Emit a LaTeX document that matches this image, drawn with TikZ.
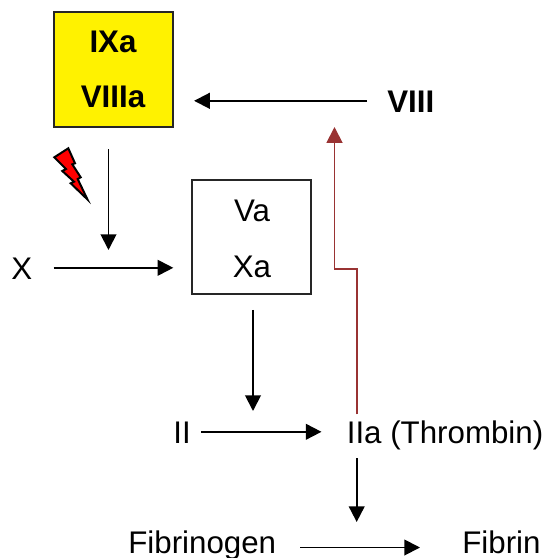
\documentclass[tikz,border=0pt]{standalone}
\usepackage{fontspec}
\setmainfont{Liberation Sans}
\usetikzlibrary{arrows.meta}
\definecolor{thrombinred}{HTML}{993333}
\tikzset{
    factor/.style={inner sep=0pt,anchor=base,text height=0.448cm,text depth=0pt,font=\fontsize{17.8}{20}\selectfont},
    lowfactor/.style={factor,text depth=0.228cm},
    active/.style={factor,font=\fontsize{17.8}{20}\selectfont\bfseries},
    complex/.style={draw=black!85,line width=0.036cm,inner sep=0pt,minimum width=2.38cm},
    arr/.style={line width=0.038cm,-{Triangle[length=0.315cm,width=0.315cm]}},
}
\begin{document}
\begin{tikzpicture}[x=0.02cm,y=-0.02cm]
    \useasboundingbox (0,0) rectangle (545,558);

    \node[complex,fill=yellow,minimum height=2.29cm] (tenase) at (113.7,69.5) {};
    \node[active] (ixa) at (113,52.5) {IXa};
    \node[active] (viiia) at (113,107.5) {VIIIa};
    \node[active,anchor=base west] (viii) at (387,112) {VIII};

    \node[complex,minimum height=2.28cm] (prothrombinase) at (251.7,237) {};
    \node[factor] (va) at (252,221) {Va};
    \node[factor] (xa) at (252,277) {Xa};
    \node[factor,anchor=base west] (x) at (11,279) {X};

    \node[factor,anchor=base west] (ii) at (173,443) {II};
    \node[factor,anchor=base west] (iia) at (346.5,443) {IIa (Thrombin)};
    \node[lowfactor,anchor=base west] (fibrinogen) at (128,553) {Fibrinogen};
    \node[lowfactor,anchor=base west] (fibrin) at (462,553) {Fibrin};

    \coordinate (xin) at (108.5,250);
    \coordinate (iiin) at (253,411);
    \coordinate (fibrinin) at (356.7,522);
    \coordinate (feedback) at (334.5,127);
    \coordinate (bendlow) at (356.7,269);

    % bolt
    \filldraw[fill=red,line width=0.04cm,line join=miter] (54.3,157.3) -- (68.3,148.3) -- (75,163.3) -- (72.3,164.3)
        -- (80.7,177.3) -- (77.7,179) -- (87.5,199.5) -- (70.7,183.3) -- (74,181.7) -- (62.3,171) -- (66,169) -- cycle;

    \draw[arr,shorten <=0.4cm,shorten >=0.4cm] (viii.west) -- (viii.west -| tenase.east);
    \draw[arr,shorten <=0.43cm] (xin |- tenase.south) -- (xin);
    \draw[arr,shorten <=0.42cm,shorten >=0.36cm] (x.east) -- (x.east -| prothrombinase.west);
    \draw[arr,shorten <=0.3cm] (iiin |- prothrombinase.south) -- (iiin);
    \draw[arr,shorten <=0.2cm,shorten >=0.5cm] (ii.east) -- (ii.east -| iia.west);
    \draw[arr,shorten <=0.3cm] (fibrinin |- iia.south) -- (fibrinin);
    \draw[arr,shorten <=0.48cm,shorten >=0.84cm] (fibrinogen.east) -- (fibrin.west);

    \draw[thrombinred,arr,shorten <=0.12cm] (fibrinin |- iia.north) -- (bendlow) -- (bendlow -| feedback) -- (feedback);
\end{tikzpicture}
\end{document}
